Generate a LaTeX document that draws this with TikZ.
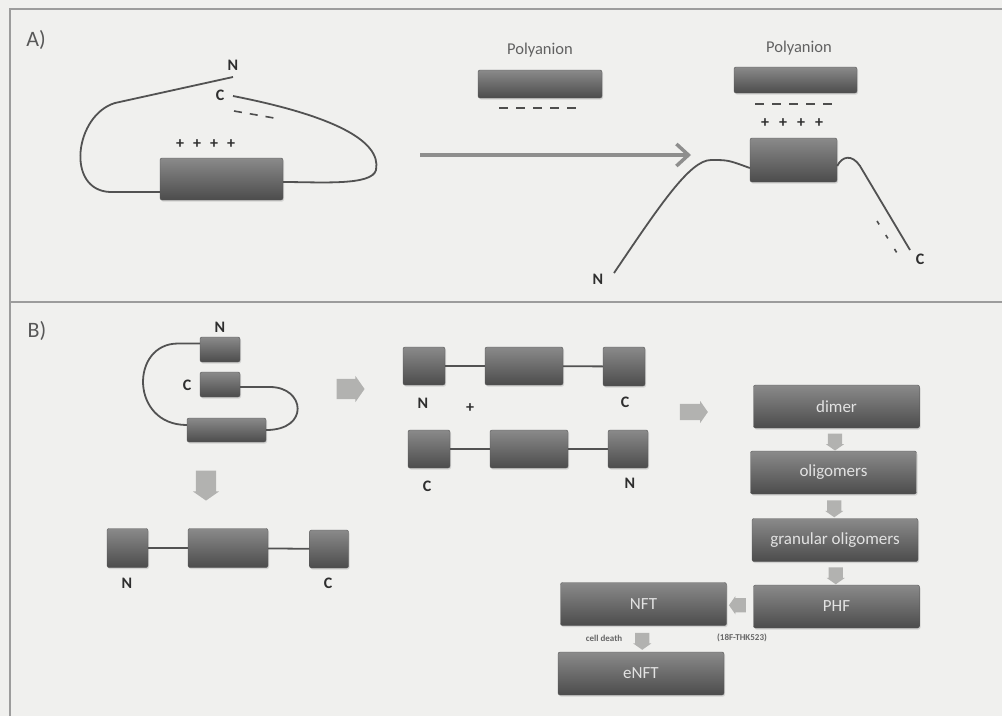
\documentclass[tikz,border=0pt]{standalone}
\usepackage{fontspec}
\setmainfont{Carlito}
\usetikzlibrary{shapes.arrows,arrows.meta,shadows,calc}
\definecolor{bg}{HTML}{F0F0EE}
\definecolor{frame}{HTML}{9C9C9C}
\definecolor{boxtop}{HTML}{8A8A8A}
\definecolor{boxbot}{HTML}{4C4C4C}
\definecolor{boxedge}{HTML}{585858}
\definecolor{chain}{HTML}{525252}
\definecolor{arrgray}{HTML}{B2B2B0}
\definecolor{labtext}{HTML}{2E2E2E}
\definecolor{flowtext}{HTML}{E2E2E2}
\begin{document}
\begin{tikzpicture}[x=1pt,y=-1pt,
  blk/.style={rectangle, rounded corners=2pt, top color=boxtop, bottom color=boxbot,
    draw=boxedge, line width=0.4pt, inner sep=0pt,
    drop shadow={opacity=0.25, shadow xshift=1pt, shadow yshift=-1.5pt}},
  flow/.style={blk, minimum width=166pt, minimum height=43pt, text=flowtext,
    font=\fontsize{17}{20}\selectfont},
  lab/.style={font=\bfseries\fontsize{16}{16}\selectfont, text=labtext, inner sep=0pt},
  panel/.style={font=\fontsize{22}{22}\selectfont, text=labtext!80, inner sep=0pt},
  polylab/.style={font=\fontsize{16.5}{16.5}\selectfont, text=black!62, inner sep=0pt},
  plussign/.style={font=\bfseries\fontsize{16}{16}\selectfont, text=labtext, inner sep=0pt},
  charge/.style={draw=labtext!85, line width=1.6pt},
  strand/.style={draw=chain, line width=1.8pt},
  blockarr/.style={single arrow, fill=arrgray, draw=none, single arrow tip angle=110},
  harr/.style={blockarr, inner xsep=0pt, inner ysep=#1},
  varr/.style={blockarr, inner ysep=0pt, inner xsep=#1, shape border rotate=270},
  smallarr/.style={minimum height=17pt, single arrow head extend=2pt},
  tiny/.style={font=\bfseries\fontsize{9}{9}\selectfont, text=black!60, inner sep=0pt}]

% page and panel frame
\useasboundingbox (0,0) rectangle (1002,716);
\fill[bg] (0,0) rectangle (1002,716);
\draw[frame, line width=1.6pt] (1002,9) -- (10,9) -- (10,716);
\draw[frame, line width=1.6pt] (10,302) -- (1002,302);

% ---------------- panel A ----------------
\node[panel] (pA) at (36,40) {A)};

% folded molecule
\node[blk, minimum width=123pt, minimum height=42pt] (a) at (221.5,179) {};
\foreach \px in {180,197,214,231} \node[plussign] at (\px,144) {+};
\coordinate (aN) at (233,77);
\coordinate (aC) at (233,96);
\node[lab] (aNl) at (233,65) {N};
\node[lab] (aCl) at (220,95) {C};
\draw[strand] ([yshift=-13pt]a.west) -- (110,192) .. controls (65,190) and (75,115) .. (115,103) -- (aN);
\draw[strand] (aC) .. controls (330,115) and (382,140) .. (376,170) .. controls (372,186) and (320,182) .. ([yshift=-3pt]a.east);
\draw[charge, dash pattern=on 8pt off 8pt] (234,111) -- (274,118);

% transition arrow
\coordinate (arrS) at (420,155);
\coordinate (arrE) at (691,155);
\draw[arrgray!80!black, line width=4pt, -{Straight Barb[length=12pt,width=22pt,line width=3.5pt]}] (arrS) -- (arrE);

% free polyanion
\node[blk, minimum width=124pt, minimum height=28pt] (p1) at (540,84) {};
\node[polylab] (p1l) at (540,50) {Polyanion};
\draw[charge, dash pattern=on 9pt off 8pt] (499,108) -- (576,108);

% polyanion bound to the extended molecule
\node[blk, minimum width=123pt, minimum height=26pt] (p2) at (795.5,80) {};
\node[polylab] (p2l) at (799,48) {Polyanion};
\draw[charge, dash pattern=on 9pt off 8pt] (755,104) -- (832,104);
\foreach \px in {765,783,801,819} \node[plussign] at (\px,123) {+};
\node[blk, minimum width=87pt, minimum height=44pt] (b) at (793.5,160) {};
\coordinate (bN) at (614,273);
\coordinate (bC) at (910,250);
\node[lab] (bNl) at (598,279) {N};
\node[lab] (bCl) at (920,259) {C};
\draw[strand] (bN) .. controls (660,205) and (690,160) .. (711,160) .. controls (728,160) .. ([yshift=-8pt]b.west);
\draw[strand] ([yshift=-6pt]b.east) .. controls (842,156) and (852,154) .. (860,166) -- (bC);
\draw[charge, dash pattern=on 4pt off 12.5pt] (877,221) -- (897,253);

% ---------------- panel B ----------------
\node[panel] (pB) at (37,331) {B)};

% hairpin
\node[blk, minimum width=40pt, minimum height=25pt] (hN) at (220,349.5) {};
\node[blk, minimum width=40pt, minimum height=25pt] (hC) at (220,384.5) {};
\node[blk, minimum width=79pt, minimum height=24pt] (hL) at (226.5,430) {};
\node[lab] (hNl) at (220,327) {N};
\node[lab] (hCl) at (187,385) {C};
\draw[strand] ([yshift=6pt]hN.west) -- (178,343.5) .. controls (130,343.5) and (130,425) .. ([yshift=5pt]hL.west);
\draw[strand] ([yshift=-2.5pt]hC.east) -- (270,387) .. controls (305,387) and (310,430) .. (hL.east);

\node[harr=10pt, minimum height=28pt, single arrow head extend=3pt] (ar1) at (347,389) {};
\node[varr=10pt, minimum height=30pt, single arrow head extend=3pt] (ar2) at (206,482) {};

% unfolded monomer
\node[blk, minimum width=41pt, minimum height=39pt] (m1) at (127.5,548) {};
\node[blk, minimum width=80pt, minimum height=39pt] (m2) at (228,548) {};
\node[blk, minimum width=39pt, minimum height=38pt] (m3) at (329,549) {};
\draw[strand] (m1) -- (m2);
\draw[strand] (m2) -- (m3);
\node[lab] (m1l) at (127,583) {N};
\node[lab] (m3l) at (328,583) {C};

% antiparallel pair
\node[blk, minimum width=42pt, minimum height=38pt] (u1) at (424,366) {};
\node[blk, minimum width=78pt, minimum height=38pt] (u2) at (524,366) {};
\node[blk, minimum width=42pt, minimum height=39pt] (u3) at (624,366.5) {};
\draw[strand] (u1) -- (u2);
\draw[strand] (u2) -- (u3);
\node[lab] (u1l) at (423,403) {N};
\node[lab] (u3l) at (625,402) {C};
\node[plussign] (plus) at (470,408) {+};
\node[blk, minimum width=42pt, minimum height=38pt] (w1) at (429,449) {};
\node[blk, minimum width=78pt, minimum height=38pt] (w2) at (529,449) {};
\node[blk, minimum width=40pt, minimum height=38pt] (w3) at (628,449) {};
\draw[strand] (w1) -- (w2);
\draw[strand] (w2) -- (w3);
\node[lab] (w1l) at (427,486) {C};
\node[lab] (w3l) at (630,483) {N};

\node[harr=8pt, minimum height=28pt, single arrow head extend=3pt] (ar3) at (691,412) {};

% aggregation pathway
\node[flow] (dimer) at (836.5,406.5) {dimer};
\node[flow] (olig) at (833.5,472.5) {oligomers};
\node[flow] (gran) at (835,540) {granular oligomers};
\node[flow] (phf) at (836.5,606.5) {PHF};
\node[flow] (nft) at (643.5,604) {NFT};
\node[flow] (enft) at (641,673.5) {eNFT};

\node[varr=7pt, smallarr] (s1) at ($(dimer.south)!0.5!(olig.north)$) {};
\node[varr=7pt, smallarr] (s2) at ($(olig.south)!0.5!(gran.north)$) {};
\node[varr=7pt, smallarr] (s3) at ($(gran.south)!0.5!(phf.north)$) {};
\node[harr=7pt, smallarr, shape border rotate=180] (s4) at ($(phf.west)!0.5!(nft.east)$) {};
\node[varr=7pt, smallarr] (s5) at ($(nft.south)!0.5!(enft.north)$) {};
\node[tiny] (cd) at (604,638) {cell death};
\node[tiny] (thk) at (742,638) {(18F-THK523)};
\end{tikzpicture}
\end{document}
